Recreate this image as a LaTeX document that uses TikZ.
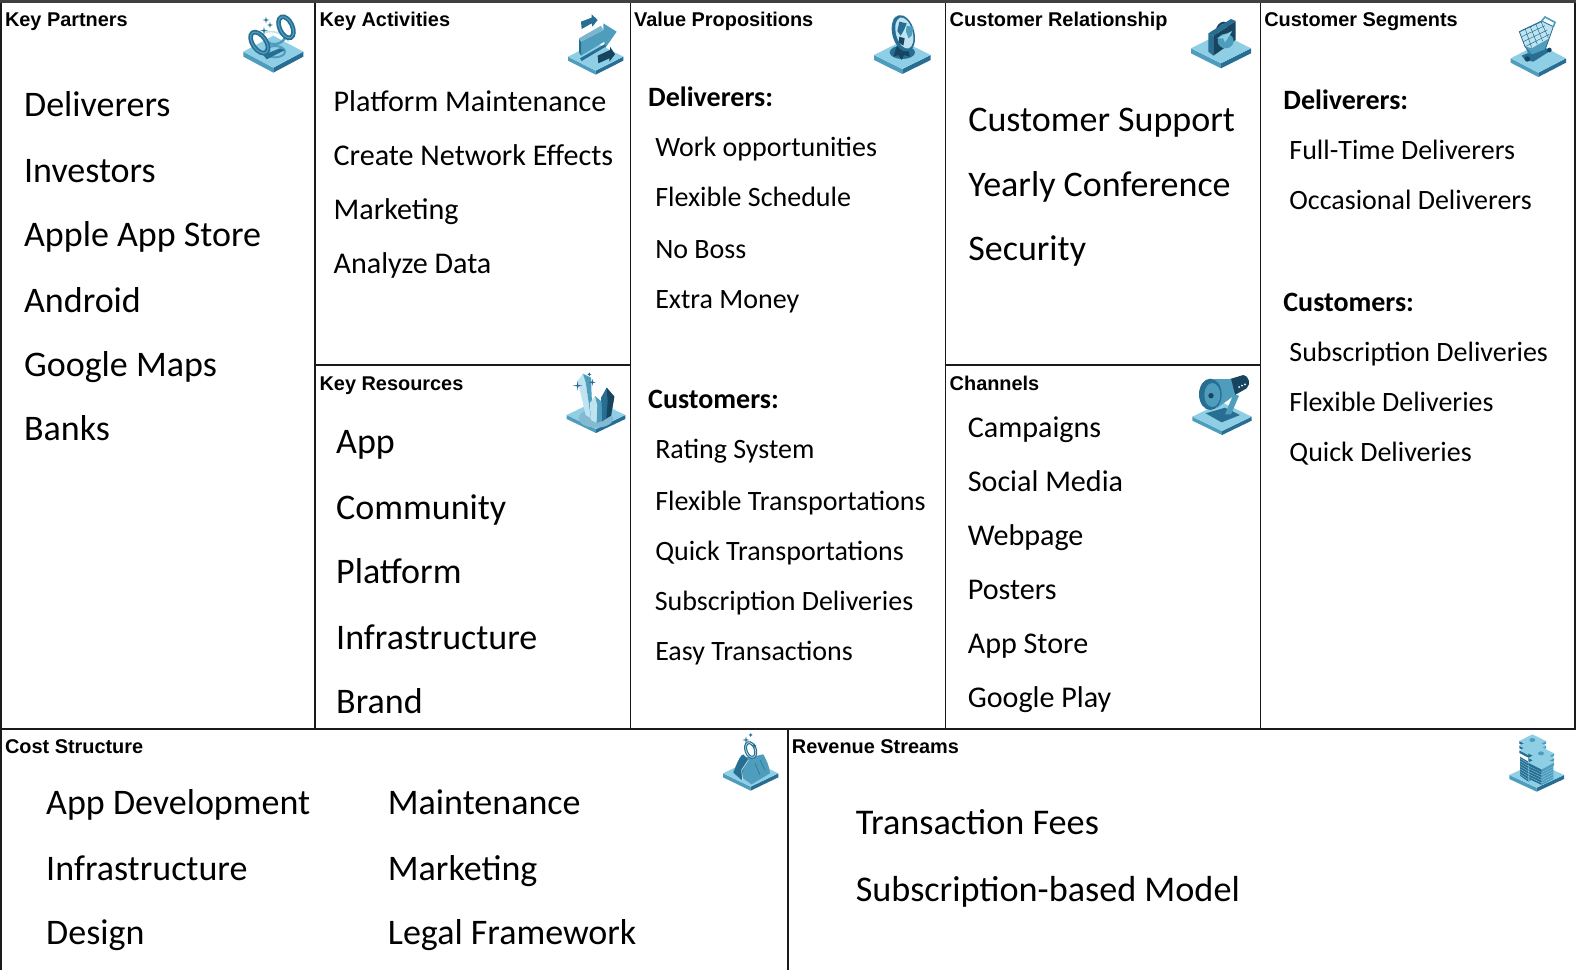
\documentclass[tikz,border=0pt]{standalone}
\usepackage{fontspec}
\setmainfont{Carlito}
\newfontfamily\headfont{Liberation Sans}[BoldFont={Liberation Sans Bold}]
\definecolor{ilight}{HTML}{8FCFE6}
\definecolor{ipale}{HTML}{BFE3F0}
\definecolor{imid}{HTML}{4F9DBD}
\definecolor{idark}{HTML}{276E92}
\definecolor{inavy}{HTML}{17455F}
\definecolor{gridc}{HTML}{1A1A1A}
\tikzset{
  gridline/.style={draw=gridc,line width=1.3pt},
  toprule/.style={draw=black!75,line width=3pt},
  txt/.style={anchor=base west,inner sep=0pt,outer sep=0pt,text=black},
  head/.style={txt,font=\headfont\bfseries\fontsize{19.9}{22}\selectfont},
  big/.style={txt,font=\fontsize{36}{42}\selectfont},
  mid/.style={txt,font=\fontsize{30.1}{36}\selectfont},
  low/.style={txt,font=\fontsize{28}{33}\selectfont},
  sub/.style={txt,font=\bfseries\fontsize{28}{33}\selectfont},
  icon/.style={x=0.3333pt,y=-0.3333pt},
}
\newcommand{\platform}[5]{%
  \fill[imid] (#1-#3,#2) -- (#1,#2+#4) -- (#1,#2+#4+#5) -- (#1-#3,#2+#5) -- cycle;
  \fill[idark] (#1+#3,#2) -- (#1,#2+#4) -- (#1,#2+#4+#5) -- (#1+#3,#2+#5) -- cycle;
  \fill[ilight] (#1-#3,#2) -- (#1,#2-#4) -- (#1+#3,#2) -- (#1,#2+#4) -- cycle;
}
\newcommand{\spark}[3]{% x y r
  \fill[idark] (#1-#3,#2) -- (#1-2,#2-2) -- (#1,#2-#3) -- (#1+2,#2-2) -- (#1+#3,#2) -- (#1+2,#2+2) -- (#1,#2+#3) -- (#1-2,#2+2) -- cycle;
}
\begin{document}
\begin{tikzpicture}[x=1pt,y=-1pt]
\useasboundingbox (0,0) rectangle (1576,970);
\fill[white] (0,0) rectangle (1576,970);
% grid
\draw[gridline] (1,0) -- (1,970);
\draw[gridline] (315,0) -- (315,729);
\draw[gridline] (630.5,0) -- (630.5,729);
\draw[gridline] (945.5,0) -- (945.5,729);
\draw[gridline] (1260.5,0) -- (1260.5,729);
\draw[gridline] (1575,0) -- (1575,729);
\draw[gridline] (315,365) -- (630.5,365);
\draw[gridline] (945.5,365) -- (1260.5,365);
\draw[gridline] (788,729) -- (788,970);
\draw[gridline] (0,729) -- (1576,729);
\draw[toprule] (0,1.2) -- (1576,1.2);
% texts
\begin{scope}[x=1.005pt,y=-1.005pt]
\node[head] (h1) at (5,26) {Key Partners};
\node[head] (h2) at (318,26) {Key Activities};
\node[head] (h3) at (631,26) {Value Propositions};
\node[head] (h4) at (945,26) {Customer Relationship};
\node[head] (h5) at (1258,26) {Customer Segments};
\node[head] (h6) at (318,388.5) {Key Resources};
\node[head] (h7) at (945,388.5) {Channels};
\node[head] (h8) at (5,749.5) {Cost Structure};
\node[head] (h9) at (788,749.5) {Revenue Streams};
\node[big] (a1) at (24,116) {Deliverers};
\node[big] (a2) at (24,181.5) {Investors};
\node[big] (a3) at (24,245) {Apple App Store};
\node[big] (a4) at (24,310.5) {Android};
\node[big] (a5) at (24,374.5) {Google Maps};
\node[big] (a6) at (24,438) {Banks};
\node[mid] (b1) at (332,111) {Platform Maintenance};
\node[mid] (b2) at (332,164.5) {Create Network Effects};
\node[mid] (b3) at (332,218) {Marketing};
\node[mid] (b4) at (332,272) {Analyze Data};
\node[big] (c1) at (334.5,451.5) {App};
\node[big] (c2) at (334.5,516.5) {Community};
\node[big] (c3) at (334.5,580.5) {Platform};
\node[big] (c4) at (334.5,646) {Infrastructure};
\node[big] (c5) at (334.5,709.5) {Brand};
\node[sub] (d0) at (645,106) {Deliverers:};
\node[low] (d1) at (652,156) {Work opportunities};
\node[low] (d2) at (652,205.5) {Flexible Schedule};
\node[low] (d3) at (652,257.5) {No Boss};
\node[low] (d4) at (652,306.5) {Extra Money};
\node[sub] (e0) at (645,406) {Customers:};
\node[low] (e1) at (652,456.5) {Rating System};
\node[low] (e2) at (652,507.5) {Flexible Transportations};
\node[low] (e3) at (652,557.5) {Quick Transportations};
\node[low] (e4) at (651.5,607.5) {Subscription Deliveries};
\node[low] (e5) at (652,657.5) {Easy Transactions};
\node[big] (f1) at (963.5,130.5) {Customer Support};
\node[big] (f2) at (963.5,195.5) {Yearly Conference};
\node[big] (f3) at (963.5,259) {Security};
\node[mid] (g1) at (963,435) {Campaigns};
\node[mid] (g2) at (963,489) {Social Media};
\node[mid] (g3) at (963,543) {Webpage};
\node[mid] (g4) at (963,596.5) {Posters};
\node[mid] (g5) at (963,650) {App Store};
\node[mid] (g6) at (963,704) {Google Play};
\node[sub] (i0) at (1277,109) {Deliverers:};
\node[low] (i1) at (1283,158.5) {Full-Time Deliverers};
\node[low] (i2) at (1283,208.5) {Occasional Deliverers};
\node[sub] (j0) at (1277,310) {Customers:};
\node[low] (j1) at (1283,359.5) {Subscription Deliveries};
\node[low] (j2) at (1283,409.5) {Flexible Deliveries};
\node[low] (j3) at (1283,459.5) {Quick Deliveries};
\node[big] (k1) at (46,810) {App Development};
\node[big] (k2) at (46,876) {Infrastructure};
\node[big] (k3) at (46,939.5) {Design};
\node[big] (l1) at (386,810) {Maintenance};
\node[big] (l2) at (386,876) {Marketing};
\node[big] (l3) at (386,939.5) {Legal Framework};
\node[big,font=\fontsize{36.2}{42}\selectfont] (m1) at (851.5,830) {Transaction Fees};
\node[big,font=\fontsize{36.2}{42}\selectfont] (m2) at (851.5,896.5) {Subscription-based Model};
\end{scope}
% ICON 1 rings
\begin{scope}[shift={(230,0)},icon]
\platform{130}{155}{90}{48}{15}
\draw[imid,line width=2pt] (135,155) ellipse [x radius=30,y radius=17];
\fill[idark] (100,165) -- (150,145) -- (165,150) -- (110,178) -- cycle;
\draw[ipale,line width=1.6pt] (100,100) .. controls (130,85) and (165,105) .. (175,125);
\draw[imid,line width=2.5pt] (105,120) .. controls (125,140) and (150,135) .. (165,115);
\draw[idark,line width=4.6pt,rotate around={35:(88,128)}] (88,128) ellipse [x radius=20,y radius=36];
\draw[imid,line width=1.2pt,rotate around={35:(88,128)}] (88,128) ellipse [x radius=20,y radius=36];
\draw[idark,line width=4.6pt,rotate around={25:(168,82)}] (168,82) ellipse [x radius=19,y radius=34];
\draw[imid,line width=1.2pt,rotate around={25:(168,82)}] (168,82) ellipse [x radius=19,y radius=34];
\spark{108}{60}{10}\spark{120}{75}{9}\spark{102}{92}{12}
\end{scope}
% ICON 2 arrows
\begin{scope}[shift={(555,5)},icon]
\platform{122}{155}{83}{42}{12}
\fill[imid] (78,110) -- (145,75) -- (145,55) -- (185,80) -- (150,130) -- (148,110) -- (78,152) -- cycle;
\fill[idark] (72,100) -- (78,110) -- (78,152) -- (72,142) -- cycle;
\fill[imid!75] (72,100) -- (138,62) -- (145,75) -- (78,110) -- cycle;
\fill[idark] (75,160) -- (150,117) -- (152,125) -- (80,168) -- cycle;
\fill[inavy] (128,152) -- (165,135) -- (165,125) -- (180,148) -- (163,170) -- (163,160) -- (130,175) -- cycle;
\fill[idark] (78,50) -- (110,38) -- (110,28) -- (128,45) -- (112,65) -- (110,55) -- (80,72) -- cycle;
\end{scope}
% ICON 3 globe
\begin{scope}[shift={(860,5)},icon]
\platform{127}{150}{85}{42}{15}
\fill[idark] (127,142) ellipse [x radius=38,y radius=20];
\fill[inavy] (112,118) -- (100,155) -- (115,150) -- (125,165) -- (132,150) -- (150,155) -- (140,115) -- cycle;
\fill[idark,rotate around={15:(130,85)}] (130,85) ellipse [x radius=33,y radius=56];
\fill[ipale,rotate around={15:(133,84)}] (133,84) ellipse [x radius=25,y radius=48];
\fill[idark] (118,50) -- (140,55) -- (132,75) -- (122,92) -- (112,78) -- cycle;
\fill[inavy] (118,95) -- (134,100) -- (130,122) -- (116,112) -- cycle;
\fill[imid] (140,62) -- (160,66) -- (156,90) -- (146,100) -- (138,80) -- cycle;
\spark{108}{42}{9}
\end{scope}
% ICON 4 briefcase
\begin{scope}[shift={(1175,5)},icon]
\platform{138}{130}{90}{45}{15}
\draw[inavy,line width=2.2pt] (122,90) .. controls (125,55) and (150,40) .. (165,68);
\fill[idark] (100,85) -- (115,93) -- (115,152) -- (100,140) -- cycle;
\fill[inavy] (115,93) -- (182,48) -- (182,105) -- (115,152) -- cycle;
\fill[idark] (100,85) -- (168,42) -- (182,48) -- (115,93) -- cycle;
\fill[imid] (152,108) ellipse [x radius=24,y radius=22];
\fill[ilight] (125,100) -- (172,78) -- (150,112) -- (145,100) -- cycle;
\end{scope}
% ICON 5 cart
\begin{scope}[shift={(1490,5)},icon]
\platform{145}{160}{83}{43}{13}
\fill[idark] (95,152) -- (155,128) -- (185,135) -- (130,170) -- (105,165) -- cycle;
\fill[inavy] (112,162) circle (8) (178,135) circle (7);
\fill[ipale] (88,80) -- (155,48) -- (190,65) -- (178,100) -- (125,130) -- (105,125) -- cycle;
\fill[imid] (108,125) -- (125,130) -- (178,100) -- (165,135) -- (125,150) -- (112,142) -- cycle;
\draw[idark,line width=0.5pt] (105,70) -- (125,128) (120,63) -- (142,118) (137,56) -- (158,108) (153,50) -- (175,98);
\draw[idark,line width=0.5pt] (90,80) -- (155,50) (95,95) -- (165,62) (100,110) -- (172,75) (105,125) -- (178,88);
\draw[idark,line width=0.8pt] (88,80) -- (105,125) -- (125,150) -- (165,135) -- (190,65) -- (155,48) -- cycle;
\draw[imid,line width=1.6pt] (155,48) -- (165,36) -- (195,52) -- (190,65);
\end{scope}
% ICON 6 crystals
\begin{scope}[shift={(555,365)},icon]
\platform{123}{150}{88}{42}{12}
\fill[imid!70] (123,160) ellipse [x radius=52,y radius=28];
\fill[ipale] (68,48) -- (84,26) -- (92,52) -- (108,160) -- (92,150) -- cycle;
\fill[imid] (84,26) -- (108,38) -- (110,95) -- (122,165) -- (108,160) -- (92,52) -- cycle;
\fill[idark] (138,98) -- (155,68) -- (178,95) -- (168,152) -- (140,170) -- cycle;
\fill[inavy] (155,68) -- (158,110) -- (154,160) -- (168,152) -- (178,95) -- cycle;
\fill[ipale] (104,115) -- (120,93) -- (127,120) -- (125,174) -- (108,165) -- cycle;
\fill[imid] (120,93) -- (140,110) -- (140,168) -- (125,174) -- (127,120) -- cycle;
\spark{68}{62}{15}\spark{112}{52}{10}\spark{103}{28}{6}
\end{scope}
% ICON 7 megaphone
\begin{scope}[shift={(1175,365)},icon]
\platform{141}{155}{89}{43}{12}
\fill[idark] (92,145) -- (150,128) -- (195,150) -- (140,172) -- cycle;
\fill[imid] (150,148) -- (175,88) -- (192,92) -- (168,148) -- cycle;
\fill[inavy] (165,42) -- (205,30) .. controls (222,32) and (228,58) .. (215,70) -- (180,90) -- cycle;
\fill[imid] (100,43) -- (168,42) -- (180,90) -- (125,130) -- cycle;
\fill[idark] (106,88) ellipse [x radius=34,y radius=47];
\fill[imid] (112,90) ellipse [x radius=24,y radius=36];
\fill[inavy] (108,92) circle (8);
\fill[white] (192,66) circle (3) (201,62) circle (3) (210,58) circle (3);
\end{scope}
% ICON 8 bag
\begin{scope}[shift={(710,725)},icon]
\platform{122}{145}{83}{40}{12}
\fill[imid] (95,90) .. controls (120,105) and (140,90) .. (160,88) .. controls (172,110) and (178,125) .. (180,145) -- (125,178) -- (70,140) .. controls (78,120) and (85,105) .. (95,90) -- cycle;
\fill[idark] (78,125) .. controls (85,105) and (90,95) .. (100,88) -- (115,105) -- (100,130) -- (95,165) -- (70,143) -- cycle;
\draw[ipale,line width=0.7pt] (115,105) -- (95,135) -- (98,165);
\draw[idark,line width=0.5pt] (135,115) -- (150,150) (150,105) -- (165,135);
\draw[idark,line width=3pt,rotate around={20:(122,75)}] (122,75) ellipse [x radius=14,y radius=23];
\draw[ipale,line width=0.7pt,rotate around={20:(122,75)}] (122,75) ellipse [x radius=14,y radius=23];
\spark{108}{45}{11}\spark{122}{30}{6}\spark{133}{62}{7}
\end{scope}
% ICON 9 stacks
\begin{scope}[shift={(1490,725)},icon]
\platform{140}{150}{82}{38}{12}
\fill[idark] (90,95) -- (115,110) -- (115,170) -- (90,152) -- cycle;
\fill[imid] (115,110) -- (145,95) -- (145,155) -- (115,170) -- cycle;
\foreach \k in {0,8,...,48} {\draw[ilight,line width=0.3pt] (90,100+\k) -- (115,115+\k) -- (145,100+\k);}
\foreach \k in {0,14,28} {
  \fill[idark] (88,48+\k) -- (127,68+\k) -- (127,76+\k) -- (88,56+\k) -- cycle;
  \fill[imid] (127,68+\k) -- (168,48+\k) -- (168,56+\k) -- (127,76+\k) -- cycle;
  \fill[ilight] (88,48+\k) -- (127,28+\k) -- (168,48+\k) -- (127,68+\k) -- cycle;
}
\fill[imid] (127,45) ellipse [x radius=9,y radius=6];
\fill[idark] (118,100) -- (155,120) -- (155,180) -- (118,162) -- cycle;
\fill[imid] (155,120) -- (190,102) -- (190,162) -- (155,180) -- cycle;
\foreach \k in {0,8,...,48} {\draw[ilight,line width=0.3pt] (118,108+\k) -- (155,126+\k) -- (190,108+\k);}
\foreach \k in {0,14,28} {
  \fill[idark] (115,85+\k) -- (155,105+\k) -- (155,113+\k) -- (115,93+\k) -- cycle;
  \fill[imid] (155,105+\k) -- (192,85+\k) -- (192,93+\k) -- (155,113+\k) -- cycle;
  \fill[ilight] (115,85+\k) -- (153,65+\k) -- (192,85+\k) -- (155,105+\k) -- cycle;
}
\fill[imid] (153,85) ellipse [x radius=9,y radius=6];
\end{scope}
\end{tikzpicture}
\end{document}
